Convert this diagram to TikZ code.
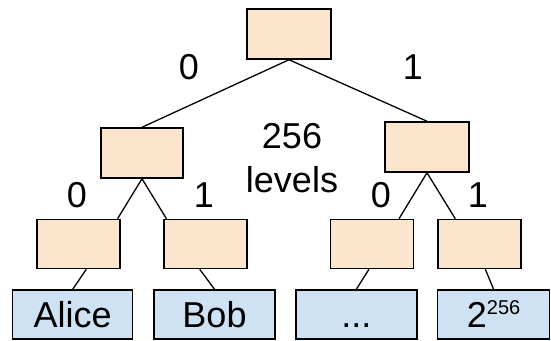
\documentclass[tikz,border=0pt]{standalone}
\usepackage{fontspec}
\setmainfont{Liberation Sans}
\usepackage{tikz}

\definecolor{peach}{HTML}{FCE5CD}
\definecolor{paleblue}{HTML}{CFE2F3}

\begin{document}
\begin{tikzpicture}[x=1pt,y=-1pt,
			inner/.style={rectangle,draw,fill=peach,line width=1.5pt,minimum width=83pt,minimum height=49pt,inner sep=0pt},
			leaf/.style={rectangle,draw,fill=paleblue,line width=1.5pt,minimum height=49pt,inner sep=0pt,text height=26pt,text depth=0pt},
			bit/.style={inner sep=0pt}]
			\tikzstyle{every node}=[font=\fontsize{36}{44}\selectfont]
		\useasboundingbox (0,0) rectangle (551,340);

		% inner nodes of the tree
		\node[inner,minimum width=84pt,minimum height=50pt] (Root) at (289,34) {};
		\node[inner,minimum width=82pt,minimum height=50pt] (l1) at (142,153) {};
		\node[inner,minimum width=84pt,minimum height=50pt] (r1) at (427,147) {};
		\node[inner] (ll) at (78.3,244) {};
		\node[inner] (lr) at (205.7,244) {};
		\node[inner] (rl) at (372,244) {};
		\node[inner] (rr) at (479.3,244) {};

		% leaves
		\node[leaf,minimum width=120pt] (alice) at (72.7,314.5) {Alice};
		\node[leaf,minimum width=121pt] (bob) at (214.5,314.5) {Bob};
		\node[leaf,minimum width=121pt] (dots) at (356.3,314.5) {...};
		\node[leaf,minimum width=112pt] (last) at (493.6,314.5) {2\raisebox{13pt}{\fontsize{20}{20}\selectfont 256}};

		\begin{scope}[line width=1.3pt]
			\draw (Root.south) -- (l1.north);
			\draw (Root.south) -- (r1.north);
			\draw (l1.south) -- ([xshift=-3pt]ll.north east);
			\draw (l1.south) -- ([xshift=3pt]lr.north west);
			\draw (r1.south) -- ([xshift=27pt]rl.north);
			\draw (r1.south) -- ([xshift=-24pt]rr.north);
			\draw ([xshift=8pt]ll.south) -- (alice.north);
			\draw ([xshift=-6pt]lr.south) -- (bob.north);
			\draw ([xshift=-3pt]rl.south) -- (dots.north);
			\draw ([xshift=6pt]rr.south) -- (last.north);
		\end{scope}

		% edge bits
		\node[bit] (b0) at (189,67) {0};
		\node[bit] (b1) at (413,67) {1};
		\node[bit] (b00) at (77,195) {0};
		\node[bit] (b01) at (204,195) {1};
		\node[bit] (b10) at (381,195) {0};
		\node[bit] (b11) at (478,195) {1};

		\node[align=center,inner sep=0pt] (depth) at (292,158) {256\\levels};

	  	\end{tikzpicture}
\end{document}
